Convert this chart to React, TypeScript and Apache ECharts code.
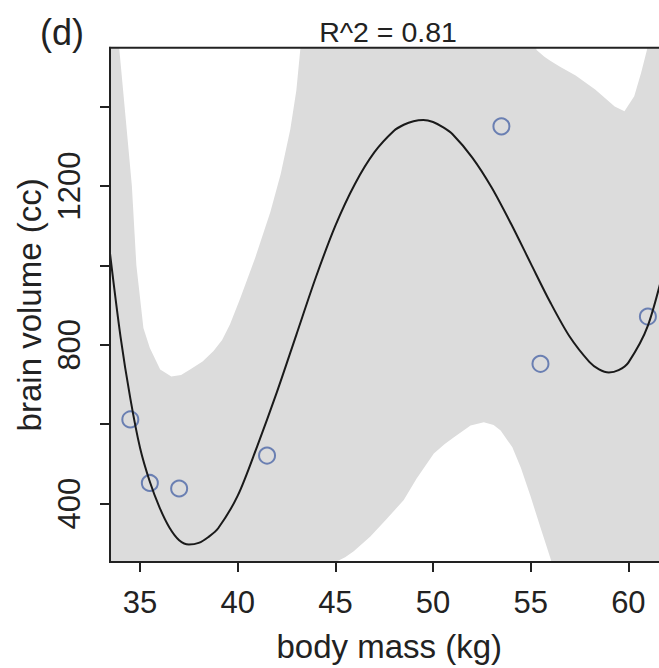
import React, { useEffect, useRef } from "react";
import * as echarts from "echarts";

// observed data points
const massPts = [37.0, 35.5, 34.5, 41.5, 55.5, 61.0, 53.5];
const brainPts = [438, 452, 612, 521, 752, 871, 1350];

// fitted curve
const curveMass = [33.46, 34, 34.5, 35, 35.5, 36, 36.5, 37, 37.5, 38, 38.5, 39, 40, 41, 42, 43, 44, 45, 46, 47, 48, 48.5, 49, 49.5, 50, 50.5, 51, 52, 53, 54, 55, 56, 57, 58, 58.5, 59, 59.5, 60, 61, 62, 62.06];
const curveBrain = [1030, 820, 665, 540, 455, 390, 340, 308, 297, 301, 316, 338, 420, 545, 680, 825, 970, 1100, 1205, 1285, 1339, 1354, 1363, 1366, 1361, 1348, 1330, 1272, 1196, 1104, 1005, 907, 820, 757, 738, 730, 736, 755, 848, 1024, 1035];

// interval band, upper edge
const upperMass = [33.46, 33.94, 34.3, 34.58, 34.81, 35.0, 35.17, 35.5, 36.03, 36.6, 37.1, 37.56, 38.2, 38.76, 39.2, 39.6, 40.13, 40.9, 41.67, 42.2, 42.69, 43.0, 43.2, 44.0, 49.0, 54.0, 55.3, 55.7, 56.0, 56.5, 57.3, 58.3, 59.3, 59.8, 60.3, 60.65, 60.95, 61.5, 62.06];
const upperBrain = [2000, 1542, 1350, 1200, 1000, 917, 842, 792, 738, 720, 724, 738, 758, 784, 812, 851, 917, 1020, 1134, 1230, 1342, 1440, 1542, 1900, 2200, 1900, 1542, 1525, 1515, 1500, 1478, 1443, 1400, 1388, 1426, 1484, 1542, 1900, 2300];

// interval band, lower edge
const lowerMass = [33.46, 36.0, 40.0, 43.0, 45.09, 45.5, 45.94, 46.79, 47.6, 48.5, 49.16, 50.04, 50.6, 51.07, 51.92, 52.6, 53.1, 53.46, 54.06, 54.5, 55.0, 55.5, 56.03, 57.0, 60.0, 62.06];
const lowerBrain = [-600, -300, 0, 150, 255, 265, 280, 317, 360, 409, 463, 526, 550, 567, 597, 605, 598, 584, 542, 490, 417, 340, 259, 50, -400, -700];

const xTicks = [35, 40, 45, 50, 55, 60];
const yTicks = [400, 600, 800, 1000, 1200, 1400];
const yLabels = [400, 800, 1200];

const FONT = "'Liberation Sans', Arial, Helvetica, sans-serif";
const INK = "#222222";

export default function App() {
  const ref = useRef<HTMLDivElement>(null);
  useEffect(() => {
    if (!ref.current) return;
    const chart = echarts.init(ref.current, null, { renderer: "svg" });
    const option: any = {
      animation: false,
      backgroundColor: "#ffffff",
      textStyle: { fontFamily: FONT },
      grid: {
        left: 110,
        top: 47.7,
        right: 11.4,
        bottom: 102.3,
        show: true,
        borderColor: INK,
        borderWidth: 2,
        backgroundColor: "transparent",
        z: 10,
      },
      xAxis: {
        type: "value",
        min: 33.46,
        max: 62.06,
        z: 10,
        splitLine: { show: false },
        axisLine: { show: true, onZero: false, lineStyle: { color: INK, width: 2 } },
        axisTick: { show: true, length: 10, customValues: xTicks, lineStyle: { color: INK, width: 2 } },
        axisLabel: {
          customValues: xTicks,
          fontSize: 31,
          color: INK,
          margin: 25,
          fontFamily: FONT,
          formatter: (v: number) => String(v),
        },
        name: "body mass (kg)",
        nameLocation: "middle",
        nameGap: 68,
        nameTextStyle: { fontSize: 33, color: INK, fontFamily: FONT },
      },
      yAxis: {
        type: "value",
        min: 253,
        max: 1548,
        z: 10,
        splitLine: { show: false },
        axisLine: { show: true, onZero: false, lineStyle: { color: INK, width: 2 } },
        axisTick: { show: true, length: 10, customValues: yTicks, lineStyle: { color: INK, width: 2 } },
        axisLabel: {
          customValues: yLabels,
          rotate: 90,
          fontSize: 31,
          color: INK,
          margin: 25,
          fontFamily: FONT,
          formatter: (v: number) => String(v),
        },
        name: "brain volume (cc)",
        nameLocation: "middle",
        nameGap: 63,
        nameRotate: 90,
        nameTextStyle: { fontSize: 33, color: INK, fontFamily: FONT },
      },
      graphic: [
        {
          type: "text",
          left: 40,
          top: 14,
          style: { text: "(d)", fontSize: 36, fill: INK, fontFamily: FONT },
        },
        {
          type: "text",
          x: 388,
          y: 31.5,
          style: {
            text: "R^2 = 0.81",
            fontSize: 28.5,
            fill: INK,
            fontFamily: FONT,
            textAlign: "center",
            textVerticalAlign: "middle",
          },
        },
      ],
      series: [
        {
          type: "custom",
          clip: true,
          z: 1,
          silent: true,
          data: [0],
          renderItem: (params: any, api: any) => {
            const pts: number[][] = [];
            for (let i = 0; i < upperMass.length; i++) pts.push(api.coord([upperMass[i], upperBrain[i]]));
            for (let i = lowerMass.length - 1; i >= 0; i--) pts.push(api.coord([lowerMass[i], lowerBrain[i]]));
            const cs = params.coordSys;
            return {
              type: "polygon",
              shape: { points: pts, smooth: 0 },
              style: { fill: "#DCDCDC" },
              clipPath: { type: "rect", shape: { x: cs.x, y: cs.y, width: cs.width, height: cs.height } },
            };
          },
        },
        {
          type: "scatter",
          z: 3,
          data: massPts.map((m, i) => [m, brainPts[i]]),
          symbol: "circle",
          symbolSize: 16,
          itemStyle: { color: "transparent", borderColor: "#4E68A8", borderWidth: 2 },
        },
        {
          type: "line",
          z: 4,
          data: curveMass.map((m, i) => [m, curveBrain[i]]),
          smooth: 0.3,
          showSymbol: false,
          symbol: "none",
          clip: true,
          lineStyle: { color: "#1a1a1a", width: 2 },
        },
      ],
    };
    chart.setOption(option);
    return () => chart.dispose();
  }, []);
  return (
    <div style={{ position: "absolute", left: 0, top: 0, width: 659, height: 668, overflow: "hidden", background: "#fff" }}>
      <div ref={ref} style={{ width: 680, height: 668 }} />
    </div>
  );
}
